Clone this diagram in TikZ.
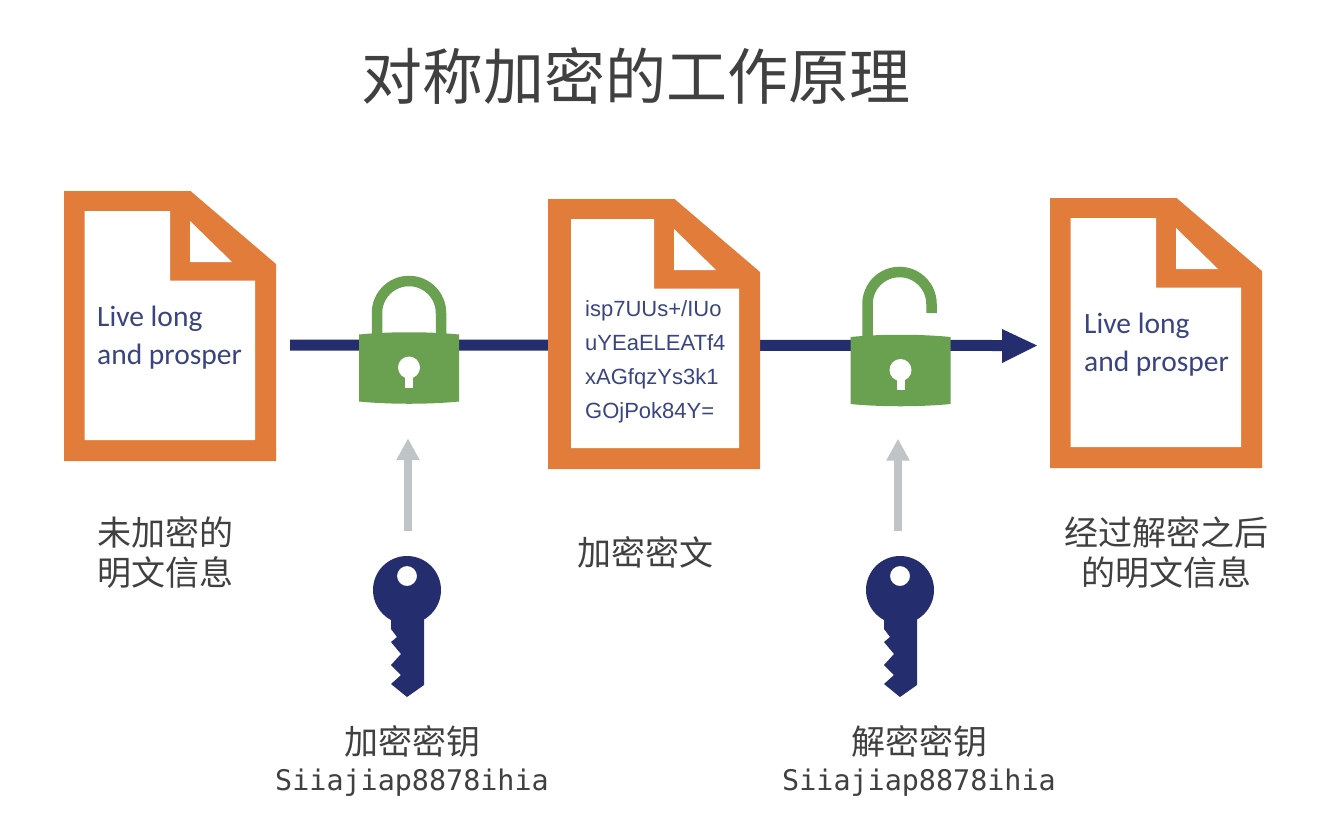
\documentclass[tikz,border=0pt]{standalone}
\usepackage{fontspec}
\usetikzlibrary{arrows.meta}
\setmainfont{Carlito}
\newfontfamily\cjk{Noto Sans CJK SC}
\newfontfamily\monof{DejaVu Sans Mono}
\newfontfamily\ciph{Liberation Sans}
\definecolor{docorange}{HTML}{E17C3A}
\definecolor{lockgreen}{HTML}{69A150}
\definecolor{navy}{HTML}{242D6E}
\definecolor{arrowgray}{HTML}{BFC5C6}
\definecolor{labelgray}{HTML}{404040}
\definecolor{doctext}{HTML}{3A4480}
\tikzset{
  x=1pt,y=-1pt,
  labeltext/.style={text=labelgray,font=\cjk\fontsize{34}{40}\selectfont,align=center,inner sep=0pt},
  monotext/.style={text=labelgray,font=\monof\fontsize{28.4}{34}\selectfont,inner sep=0pt},
  plain/.style={text=doctext,font=\fontsize{29.5}{38}\selectfont,align=left,inner sep=0pt,anchor=west},
  cipher/.style={text=doctext,font=\ciph\fontsize{22}{34}\selectfont,align=left,inner sep=0pt,anchor=west},
  mainline/.style={draw=navy,line width=11pt},
  keyarrow/.style={draw=arrowgray,line width=8pt},
}
\newcommand{\docicon}[4]{%
  \node[inner sep=0pt,minimum width=212pt,minimum height=270pt] (#3) at (#1+106,#2+135) {};
  \begin{scope}[shift={(#1,#2)}]
    \fill[docorange] (0,0)--(126.5,0)--(212,73)--(212,270)--(0,270)--cycle;
    \fill[white] (#4,20)--(106,20)--(106,89.5)--(191,89.5)--(191,249)--(#4,249)--cycle;
    \fill[white] (126,30)--(126,71)--(168,71)--cycle;
  \end{scope}}
\newcommand{\lockbody}[3]{%
  \begin{scope}[shift={(#1,#2)}]
    \fill[lockgreen] (-50,-33) .. controls (-20,-36) and (20,-36) .. (50,-33)
      -- (50,34) .. controls (20,37) and (-20,37) .. (-50,34) -- cycle;
    \fill[white] (0,0) circle[radius=11];
    \fill[white] (-4,5) rectangle (4,20);
  \end{scope}
  \node[inner sep=0pt,minimum width=100pt,minimum height=73pt] (#3) at (#1,#2) {};}
\newcommand{\keyicon}[3]{%
  \node[inner sep=0pt,minimum width=68pt,minimum height=142pt] (#3) at (#1,#2+37) {};
  \begin{scope}[shift={(#1,#2)}]
    \fill[navy,even odd rule] (0,0) circle[radius=34] (0,-14) circle[radius=10];
    \fill[navy] (-16,20) -- (-16,39) -- (-10,47) -- (-16,52) -- (-6,64) -- (-16,75) -- (-6,85) -- (-16,94) -- (0,107) -- (17,95) -- (17,20) -- cycle;
  \end{scope}}
\begin{document}
\begin{tikzpicture}
\useasboundingbox (0,0) rectangle (1320,836);
\fill[white] (0,0) rectangle (1320,836);
\node[text=labelgray,font=\cjk\fontsize{61}{61}\selectfont,inner sep=0pt] (title) at (636,76) {对称加密的工作原理};

% main line
\coordinate (linestart) at (290,345);
\coordinate (lineend) at (1037,345.5);
\coordinate (headbase) at (1002,345.5);
\draw[mainline] (linestart) -- (headbase);
\fill[navy] (1002,329) -- (lineend) -- (1002,363) -- cycle;

\docicon{64}{191}{plain1}{20.5}
\docicon{548}{199}{cipherdoc}{23}
\docicon{1050}{198}{plain2}{20.5}

\node[plain] (t1) at (97,338) {Live long\\and prosper};
\node[cipher] (t2) at (585,362) {isp7UUs+/IUo\\uYEaELEATf4\\xAGfqzYs3k1\\GOjPok84Y=};
\node[plain] (t3) at (1084,345) {Live long\\and prosper};

% closed lock
\draw[lockgreen,line width=10.5pt] (377,336) -- (377,313) arc[start angle=180,end angle=360,radius=32] -- (441,336);
\lockbody{409}{367.5}{lock1}
% open lock
\draw[lockgreen,line width=10.5pt] (867.5,340) -- (867.5,304) arc[start angle=180,end angle=360,radius=32] -- (931.5,313);
\lockbody{900.5}{370}{lock2}

\keyicon{407}{590}{key1}
\keyicon{900}{590}{key2}

\draw[keyarrow,-{Triangle[length=22pt,width=22pt]}] ([xshift=1pt,yshift=25pt]key1.north) -- ([xshift=-1pt,yshift=-34pt]lock1.south);
\draw[keyarrow,-{Triangle[length=22pt,width=22pt]}] ([xshift=-2pt,yshift=25pt]key2.north) -- ([xshift=-2.5pt,yshift=-32pt]lock2.south);

\node[labeltext] (lab1) at (165,553) {未加密的\\明文信息};
\node[labeltext] (lab2) at (645,552) {加密密文};
\node[labeltext] (lab3) at (1166,553) {经过解密之后\\的明文信息};
\node[labeltext] (lab4) at (412,741) {加密密钥};
\node[labeltext] (lab5) at (919,741) {解密密钥};
\node[monotext] (mono1) at (412,783) {Siiajiap8878ihia};
\node[monotext] (mono2) at (919,783) {Siiajiap8878ihia};
\end{tikzpicture}
\end{document}
